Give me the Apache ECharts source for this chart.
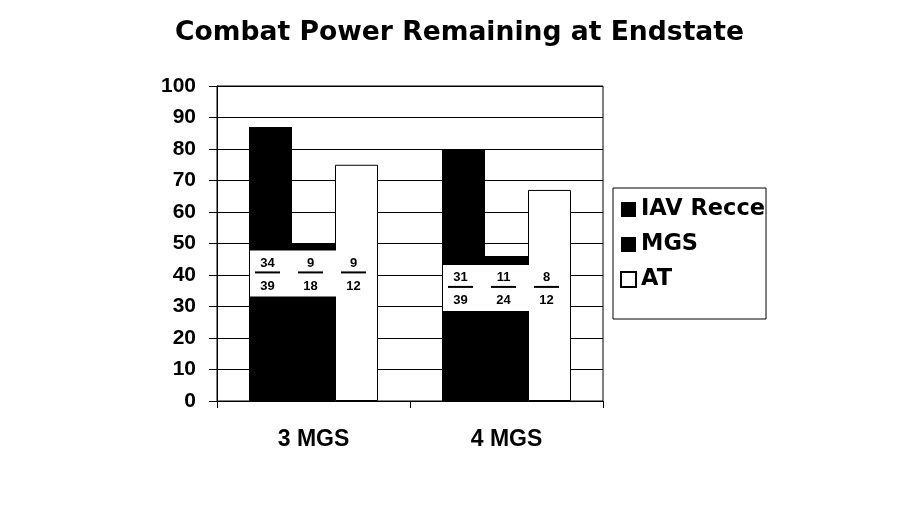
<!DOCTYPE html>
<html>
<head>
<meta charset="utf-8">
<script src="https://cdn.jsdelivr.net/npm/echarts@6/dist/echarts.min.js"></script>
<style>
html,body{margin:0;padding:0;background:#fff;}
#main{width:899px;height:516px;}
</style>
</head>
<body>
<div id="main"></div>
<script>
// categories and bar heights
var cats = ['3 MGS', '4 MGS'];
var recce = [87, 80];
var mgs = [50, 46];
var at = [75, 67];
// white fraction box (centre value on the y axis)
var boxMid = [40.5, 35.9];
// fractions shown in the box
var recceNum = [34, 31], recceDen = [39, 39];
var mgsNum = [9, 11], mgsDen = [18, 24];
var atNum = [9, 8], atDen = [12, 12];

var chart = echarts.init(document.getElementById('main'));

function fracLabel(p){
    var i = p.dataIndex;
    return '{n|' + recceNum[i] + '}{n|' + mgsNum[i] + '}{n|' + atNum[i] + '}\n' +
        '{l| }{s| }{l| }{s| }{l| }\n' +
        '{d|' + recceDen[i] + '}{d|' + mgsDen[i] + '}{d|' + atDen[i] + '}';
}

chart.setOption({
    animation: false,
    backgroundColor: '#fff',
    title: {
        text: 'Combat Power Remaining at Endstate',
        left: 170,
        top: 15,
        textStyle: {fontFamily: 'DejaVu Sans', fontWeight: 'bold', fontSize: 26.6, color: '#000'}
    },
    legend: {
        data: ['IAV Recce', 'MGS', 'AT'],
        orient: 'vertical',
        left: 613,
        top: 188,
        padding: [10, 1, 28, 7],
        itemGap: 12,
        itemWidth: 15,
        itemHeight: 15,
        icon: 'rect',
        borderColor: '#000',
        borderWidth: 1,
        textStyle: {fontFamily: 'DejaVu Sans', fontWeight: 'bold', fontSize: 22.5, lineHeight: 23, color: '#000'}
    },
    grid: {
        left: 217, right: 296, top: 86, bottom: 115,
        show: true, borderColor: '#000', borderWidth: 1
    },
    xAxis: {
        type: 'category',
        data: cats,
        axisLine: {lineStyle: {color: '#000', width: 1}},
        axisTick: {show: true, length: 7, lineStyle: {color: '#000'}},
        axisLabel: {
            margin: 27, color: '#000',
            fontFamily: 'Liberation Sans', fontWeight: 'bold', fontSize: 23
        }
    },
    yAxis: {
        type: 'value',
        min: 0, max: 100, interval: 10,
        axisLine: {show: true, lineStyle: {color: '#000', width: 1}},
        axisTick: {show: true, length: 8, lineStyle: {color: '#000'}},
        splitLine: {lineStyle: {color: '#000', width: 1}},
        axisLabel: {
            margin: 21, color: '#000',
            fontFamily: 'Liberation Sans', fontWeight: 'bold', fontSize: 21
        }
    },
    series: [
        {
            name: 'IAV Recce', type: 'bar', data: recce,
            barWidth: 43, barGap: '0%',
            itemStyle: {color: '#000'}
        },
        {
            name: 'MGS', type: 'bar', data: mgs,
            barWidth: 43, barGap: '0%',
            itemStyle: {color: '#000'}
        },
        {
            name: 'AT', type: 'bar', data: at,
            barWidth: 43, barGap: '0%',
            itemStyle: {color: '#fff', borderColor: '#000', borderWidth: 1}
        },
        {
            name: 'box', type: 'scatter', data: boxMid,
            symbol: 'rect', symbolSize: [127, 46],
            z: 5,
            itemStyle: {color: '#fff', opacity: 1},
            label: {
                show: true,
                position: 'inside',
                offset: [-3, 4],
                formatter: fracLabel,
                color: '#000',
                fontFamily: 'Liberation Sans',
                fontWeight: 'bold',
                fontSize: 13,
                rich: {
                    n: {width: 43, align: 'center', lineHeight: 12, fontFamily: 'Liberation Sans', fontWeight: 'bold', fontSize: 13, color: '#000'},
                    l: {width: 25, height: 2, lineHeight: 6, align: 'center', backgroundColor: '#000', fontSize: 2},
                    s: {width: 18, height: 2, lineHeight: 6, align: 'center', fontSize: 2},
                    d: {width: 43, align: 'center', lineHeight: 22, fontFamily: 'Liberation Sans', fontWeight: 'bold', fontSize: 13, color: '#000'}
                }
            },
            emphasis: {disabled: true}
        }
    ]
});
</script>
</body>
</html>
